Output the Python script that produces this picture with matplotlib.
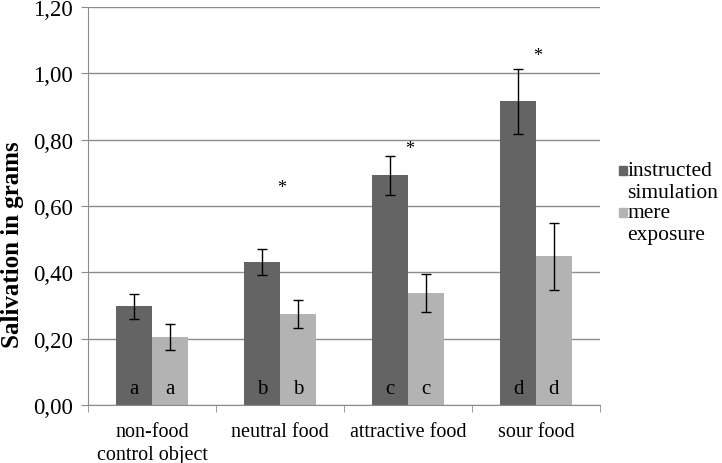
import matplotlib
matplotlib.use("Agg")
import matplotlib.pyplot as plt
import numpy as np
from matplotlib.patches import Rectangle

plt.rcParams['font.family'] = ['Liberation Serif', 'DejaVu Serif']

categories = ['non-food\ncontrol object', 'neutral food', 'attractive food', 'sour food']
simulation = [0.297, 0.432, 0.692, 0.915]
simulation_err = [0.037, 0.039, 0.059, 0.097]
exposure = [0.204, 0.274, 0.337, 0.448]
exposure_err = [0.039, 0.042, 0.058, 0.101]
letters = ['a', 'b', 'c', 'd']
star_y = [None, 0.657, 0.772, 1.052]

dark = '#646464'
light = '#b3b3b3'
grid_c = '#8c8c8c'

fig = plt.figure(figsize=(7.22, 4.64), dpi=100)
ax = fig.add_axes([0.122, 0.125, 0.709, 0.858])

x = np.arange(len(categories))
w = 0.28
ax.bar(x - w / 2, simulation, w, color=dark, zorder=2)
ax.bar(x + w / 2, exposure, w, color=light, zorder=2)
ax.errorbar(x - w / 2, simulation, yerr=simulation_err, fmt='none',
            ecolor='black', elinewidth=1, capsize=3.5, capthick=1, zorder=3)
ax.errorbar(x + w / 2, exposure, yerr=exposure_err, fmt='none',
            ecolor='black', elinewidth=1, capsize=3.5, capthick=1, zorder=3)

for i, l in enumerate(letters):
    ax.text(x[i] - w / 2, 0.02, l, ha='center', va='bottom', fontsize=15, zorder=4)
    ax.text(x[i] + w / 2, 0.02, l, ha='center', va='bottom', fontsize=15, zorder=4)
    if star_y[i] is not None:
        ax.text(x[i] + 0.01, star_y[i], '*', ha='center', va='center', fontsize=13)

ax.set_xlim(-0.5, len(categories) - 0.5)
ax.set_ylim(0, 1.2)
ax.set_yticks(np.arange(0, 1.21, 0.2))
ax.set_yticklabels([('%.2f' % v).replace('.', ',') for v in np.arange(0, 1.21, 0.2)])
ax.yaxis.grid(True, color=grid_c, linewidth=1, zorder=0)
ax.set_axisbelow(True)

ax.set_xticks(x)
ax.set_xticklabels(categories, fontsize=14.5, linespacing=1.3)
ax.set_xticks(np.arange(-0.5, len(categories)), minor=True)
ax.tick_params(axis='x', which='major', length=0, pad=12)
ax.tick_params(axis='x', which='minor', length=5, color=grid_c)
ax.tick_params(axis='y', length=5, color=grid_c, labelsize=16.5, pad=6)

for s in ['top', 'right']:
    ax.spines[s].set_visible(False)
ax.spines['left'].set_color(grid_c)
ax.spines['bottom'].set_color(grid_c)

ax.set_ylabel('Salivation in grams', fontsize=18, fontweight='bold', va='center')
ax.yaxis.set_label_coords(-0.148, 0.405)

# legend
legend_rows = [(dark, ['instructed', 'simulation'], 0.631),
               (light, ['mere', 'exposure'], 0.539)]
for color, lines, y0 in legend_rows:
    fig.patches.append(Rectangle((0.857, y0 - 0.0095), 0.011, 0.019,
                                 transform=fig.transFigure, color=color, figure=fig))
    for k, line in enumerate(lines):
        fig.text(0.869, y0 - k * 0.0475, line, fontsize=15.5, va='center', ha='left')

fig.savefig('out.png', dpi=100)
